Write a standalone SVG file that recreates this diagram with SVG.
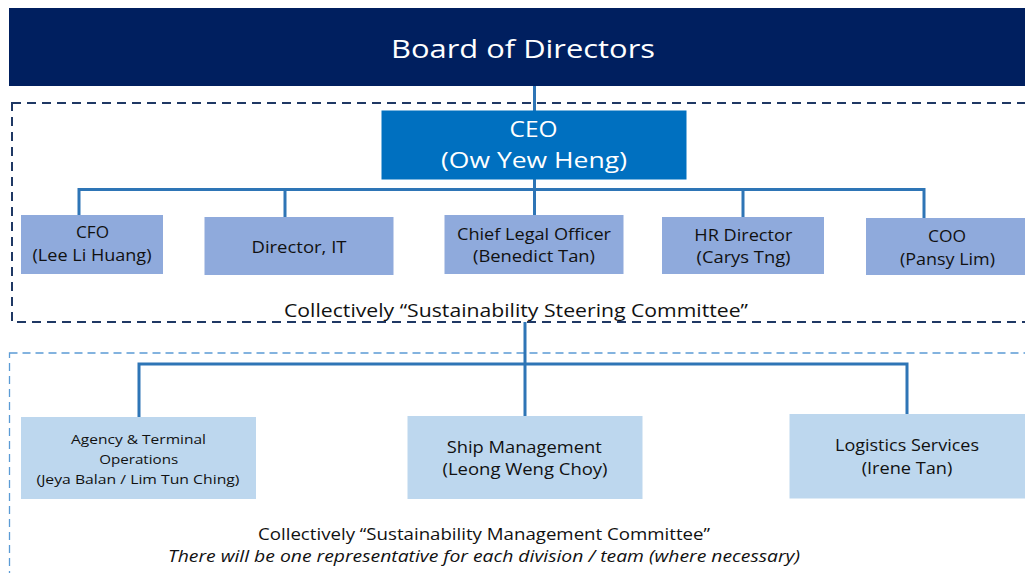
<svg xmlns="http://www.w3.org/2000/svg" width="1025" height="573" viewBox="0 0 1025 573">
<style>
text{font-family:"Open Sans","Noto Sans","Liberation Sans",sans-serif;text-anchor:middle;fill:#111}
.w{fill:#fff}
.mid{fill:#8FAADC}
.low{fill:#BDD7EE}
.m{font-size:16px}
.s{font-size:13.5px}
.c{stroke:#2E75B6;stroke-width:3;fill:none}
</style>
<rect width="1025" height="573" fill="#fff"/>
<g id="steering-frame"><rect x="12" y="103" width="1030" height="219" fill="none" stroke="#1F3864" stroke-width="2" stroke-dasharray="9,6"/></g>
<g id="management-frame"><rect x="9.5" y="353" width="1030" height="240" fill="none" stroke="#5B9BD5" stroke-width="1.3" stroke-dasharray="8,5"/></g>
<g id="connectors">
<path class="c" d="M534.5 86V111" stroke-width="2"/>
<path class="c" d="M534.5 179V215M79 215V189.5H924V218M285 189.5V217M743 189.5V217"/>
<path class="c" d="M525 322V416M139 417V364H907V414"/>
</g>
<g id="board"><rect x="9" y="8" width="1020" height="78" fill="#001F5F"/><text class="w" x="523" y="57.5" font-size="26" textLength="264" lengthAdjust="spacingAndGlyphs">Board of Directors</text></g>
<g id="ceo"><rect x="381.5" y="110.5" width="305" height="69" fill="#0070C0"/><text class="w" x="533.5" y="137" font-size="22" textLength="48" lengthAdjust="spacingAndGlyphs">CEO</text><text class="w" x="534" y="168" font-size="22" textLength="186" lengthAdjust="spacingAndGlyphs">(Ow Yew Heng)</text></g>
<g id="cfo"><rect class="mid" x="21" y="215" width="142" height="59"/><text class="m" x="92.5" y="238" textLength="33" lengthAdjust="spacingAndGlyphs">CFO</text><text class="m" x="92" y="261" textLength="119" lengthAdjust="spacingAndGlyphs">(Lee Li Huang)</text></g>
<g id="dir-it"><rect class="mid" x="204.5" y="217" width="189" height="58"/><text class="m" x="299" y="253" textLength="95" lengthAdjust="spacingAndGlyphs">Director, IT</text></g>
<g id="clo"><rect class="mid" x="444.5" y="215" width="179" height="59"/><text class="m" x="534" y="239.5" textLength="154" lengthAdjust="spacingAndGlyphs">Chief Legal Officer</text><text class="m" x="534" y="262" textLength="122" lengthAdjust="spacingAndGlyphs">(Benedict Tan)</text></g>
<g id="hr"><rect class="mid" x="662" y="217" width="162" height="57"/><text class="m" x="743.3" y="240.5" textLength="98" lengthAdjust="spacingAndGlyphs">HR Director</text><text class="m" x="743.5" y="263" textLength="94" lengthAdjust="spacingAndGlyphs">(Carys Tng)</text></g>
<g id="coo"><rect class="mid" x="866" y="218" width="170" height="57"/><text class="m" x="947" y="242" textLength="38" lengthAdjust="spacingAndGlyphs">COO</text><text class="m" x="947.5" y="265" textLength="95" lengthAdjust="spacingAndGlyphs">(Pansy Lim)</text></g>
<text x="516" y="317" font-size="17.5" textLength="464" lengthAdjust="spacingAndGlyphs">Collectively “Sustainability Steering Committee”</text>
<g id="agency"><rect class="low" x="21" y="417" width="235" height="82"/><text class="s" x="138.5" y="444" textLength="135" lengthAdjust="spacingAndGlyphs">Agency &amp; Terminal</text><text class="s" x="138.7" y="463.5" textLength="79" lengthAdjust="spacingAndGlyphs">Operations</text><text class="s" x="138" y="483.5" textLength="203" lengthAdjust="spacingAndGlyphs">(Jeya Balan / Lim Tun Ching)</text></g>
<g id="ship"><rect class="low" x="407.5" y="416" width="235" height="83"/><text class="m" x="524.2" y="452.5" textLength="155" lengthAdjust="spacingAndGlyphs">Ship Management</text><text class="m" x="525" y="475" textLength="165" lengthAdjust="spacingAndGlyphs">(Leong Weng Choy)</text></g>
<g id="logistics"><rect class="low" x="789.5" y="414" width="240" height="84.5"/><text class="m" x="907" y="451" textLength="144" lengthAdjust="spacingAndGlyphs">Logistics Services</text><text class="m" x="907" y="474" textLength="90.7" lengthAdjust="spacingAndGlyphs">(Irene Tan)</text></g>
<text x="484" y="540" font-size="16.5" textLength="452" lengthAdjust="spacingAndGlyphs">Collectively “Sustainability Management Committee”</text>
<text x="484" y="562" font-size="16.5" font-style="italic" textLength="632" lengthAdjust="spacingAndGlyphs">There will be one representative for each division / team (where necessary)</text>
</svg>
